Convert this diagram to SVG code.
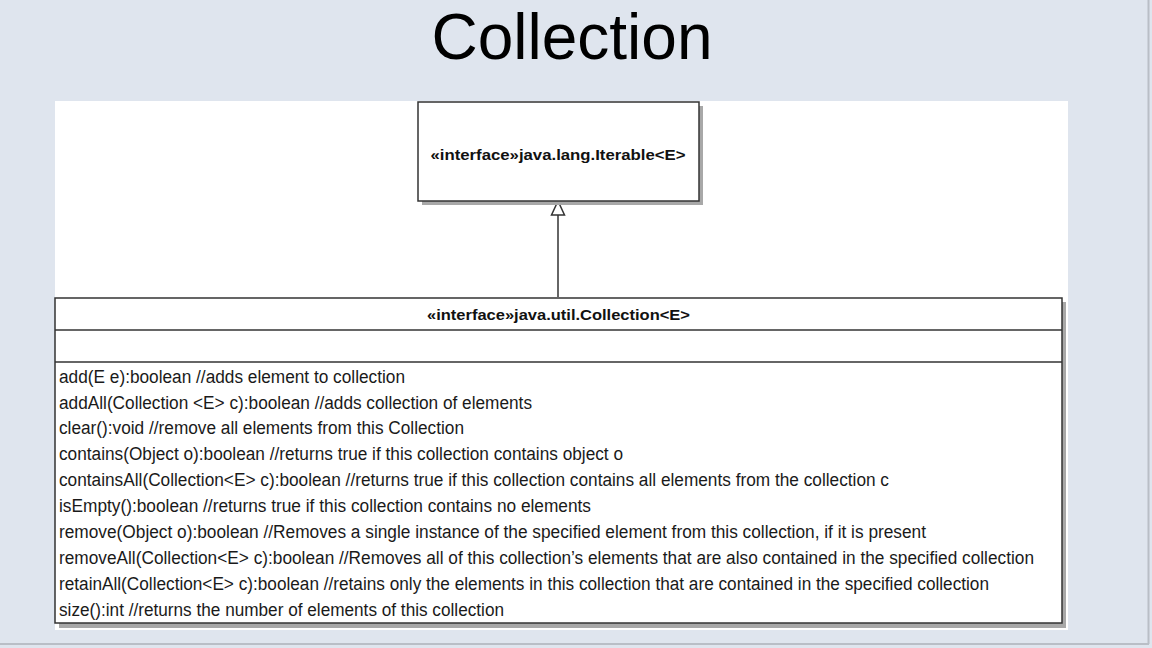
<svg xmlns="http://www.w3.org/2000/svg" width="1152" height="648" viewBox="0 0 1152 648">
<style>
.title{font-family:"Liberation Sans",Arial,sans-serif;font-size:64px;fill:#000}
.hdr{font-family:"Liberation Sans",Arial,sans-serif;font-size:15px;font-weight:bold;fill:#111}
.m{font-family:"Liberation Sans",Arial,sans-serif;font-size:18px;fill:#1a1a1a}
.box{fill:#fff;stroke:#333;stroke-width:1.5}
.shadow{fill:#a8a8a8}
.div{stroke:#333;stroke-width:1.5}
</style>
<rect x="0" y="0" width="1152" height="648" fill="#dfe5ee"/>
<line x1="1148.5" y1="0" x2="1148.5" y2="644" stroke="#b9bec6" stroke-width="2"/>
<line x1="0" y1="644" x2="1149" y2="644" stroke="#b9bec6" stroke-width="2"/>
<text class="title" x="572" y="59" text-anchor="middle">Collection</text>
<rect x="55" y="101" width="1013" height="529" fill="#fff"/>
<g id="connectors">
<line x1="558" y1="215" x2="558" y2="297" stroke="#333" stroke-width="1.5"/>
<polygon points="558,201 551.5,215 564.5,215" fill="#fff" stroke="#333" stroke-width="1.5"/>
</g>
<g id="iterable">
<rect class="shadow" x="422" y="106" width="281" height="99"/>
<rect class="box" x="418" y="102" width="281" height="99"/>
<text class="hdr" x="558" y="160" text-anchor="middle" textLength="255" lengthAdjust="spacingAndGlyphs">«interface»java.lang.Iterable&lt;E&gt;</text>
</g>
<g id="collection">
<rect class="shadow" x="59" y="302" width="1007" height="326"/>
<rect class="box" x="55" y="298" width="1007" height="325"/>
<line class="div" x1="55" y1="330" x2="1062" y2="330"/>
<line class="div" x1="55" y1="362" x2="1062" y2="362"/>
<text class="hdr" x="558.5" y="320" text-anchor="middle" textLength="263" lengthAdjust="spacingAndGlyphs">«interface»java.util.Collection&lt;E&gt;</text>
<text class="m" x="59" y="383" textLength="346" lengthAdjust="spacingAndGlyphs">add(E e):boolean //adds element to collection</text>
<text class="m" x="59" y="409" textLength="473" lengthAdjust="spacingAndGlyphs">addAll(Collection &lt;E&gt; c):boolean //adds collection of elements</text>
<text class="m" x="59" y="434" textLength="405" lengthAdjust="spacingAndGlyphs">clear():void //remove all elements from this Collection</text>
<text class="m" x="59" y="460" textLength="564" lengthAdjust="spacingAndGlyphs">contains(Object o):boolean //returns true if this collection contains object o</text>
<text class="m" x="59" y="486" textLength="830" lengthAdjust="spacingAndGlyphs">containsAll(Collection&lt;E&gt; c):boolean //returns true if this collection contains all elements from the collection c</text>
<text class="m" x="59" y="512" textLength="532" lengthAdjust="spacingAndGlyphs">isEmpty():boolean //returns true if this collection contains no elements</text>
<text class="m" x="59" y="538" textLength="867" lengthAdjust="spacingAndGlyphs">remove(Object o):boolean //Removes a single instance of the specified element from this collection, if it is present</text>
<text class="m" x="59" y="564" textLength="975" lengthAdjust="spacingAndGlyphs">removeAll(Collection&lt;E&gt; c):boolean //Removes all of this collection’s elements that are also contained in the specified collection</text>
<text class="m" x="59" y="590" textLength="930" lengthAdjust="spacingAndGlyphs">retainAll(Collection&lt;E&gt; c):boolean //retains only the elements in this collection that are contained in the specified collection</text>
<text class="m" x="59" y="616" textLength="445" lengthAdjust="spacingAndGlyphs">size():int //returns the number of elements of this collection</text>
</g>
</svg>
